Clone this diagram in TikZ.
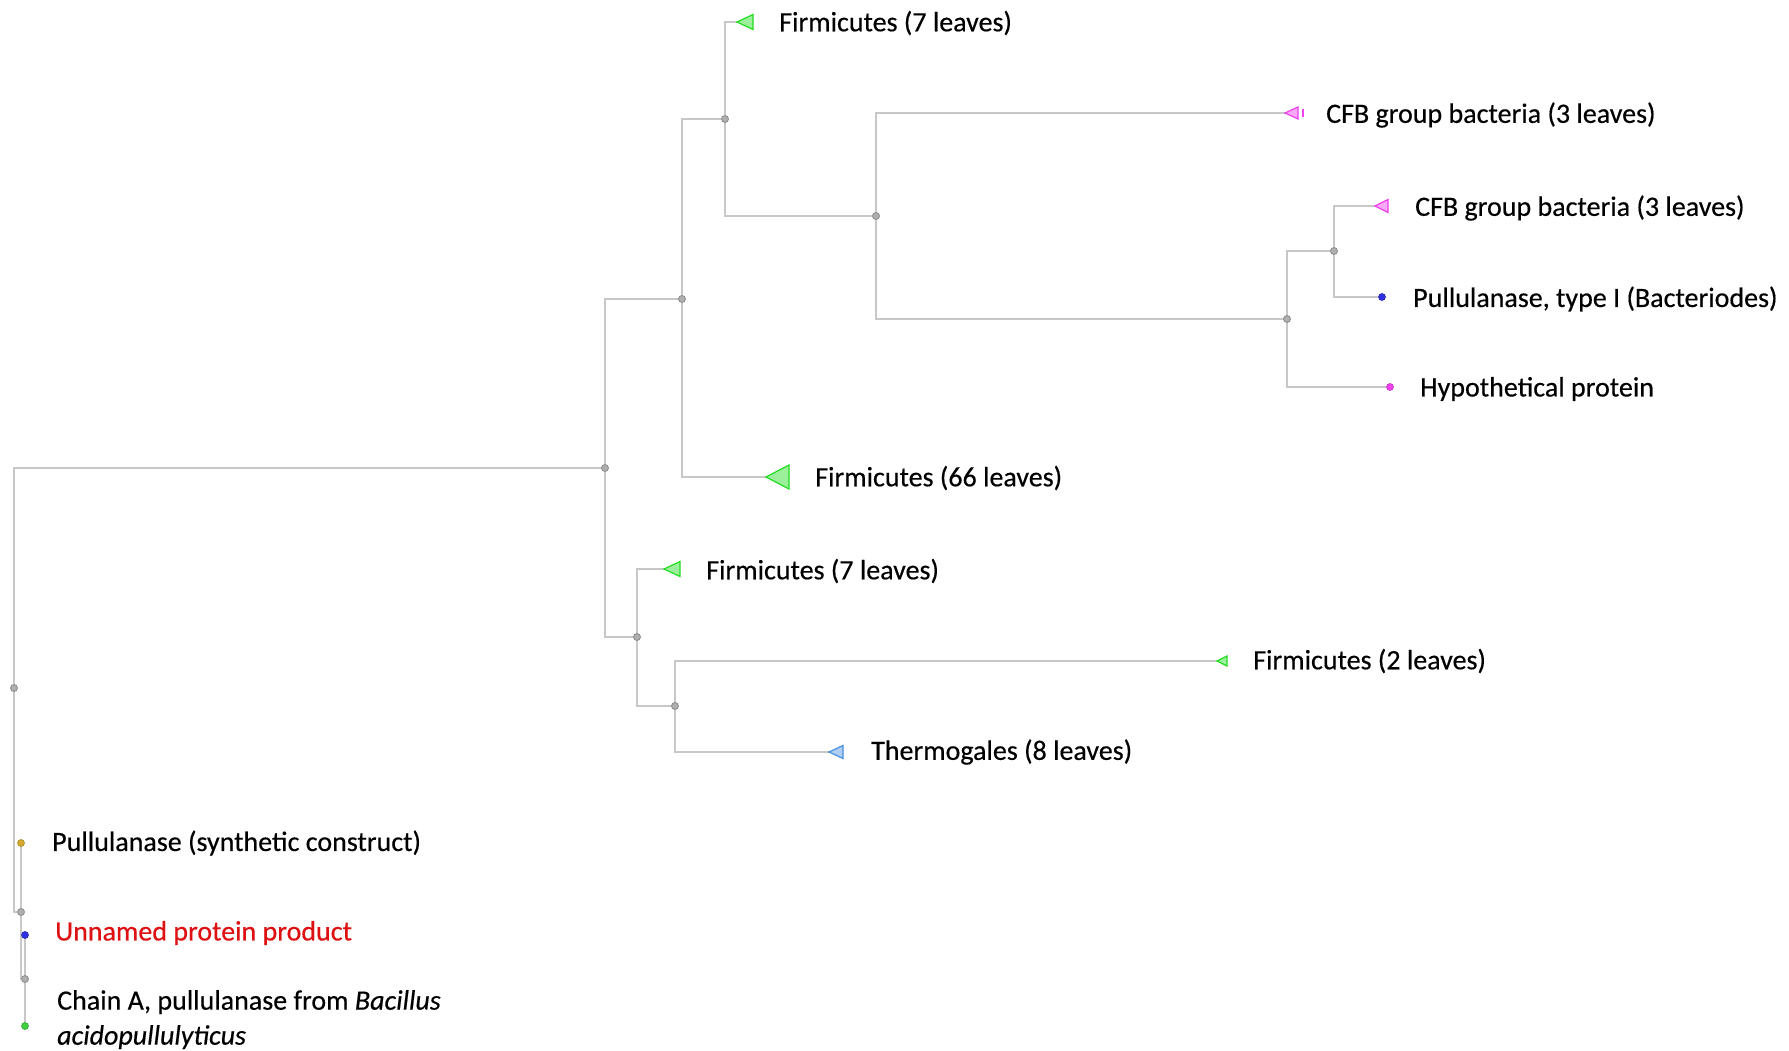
\documentclass[tikz,border=0pt]{standalone}
\usepackage{fontspec}
\setmainfont{Carlito}
\usetikzlibrary{backgrounds,calc}
\definecolor{edgegray}{HTML}{C8C8C8}
\definecolor{nodegray}{HTML}{8C8C8C}
\definecolor{firmgreen}{HTML}{22DD22}
\definecolor{cfbpink}{HTML}{F040F0}
\definecolor{thermblue}{HTML}{4A90E0}
\definecolor{leafblue}{HTML}{3030E0}
\definecolor{synyellow}{HTML}{D4AA30}
\definecolor{chaingreen}{HTML}{40D040}
\definecolor{unnamedred}{HTML}{DD1111}
\tikzset{
  inode/.style={circle, fill=nodegray!70, draw=nodegray, line width=0.8pt, minimum size=7pt, inner sep=0pt},
  leafdot/.style={circle, fill=#1, draw=#1!80!black, line width=0.6pt, minimum size=7pt, inner sep=0pt},
  branch/.style={draw=edgegray, line width=2pt},
  lbl/.style={anchor=west, inner sep=0pt, font=\fontsize{28}{35}\selectfont\addfontfeature{FakeBold=0.4}},
  tri/.style={fill=#1!45, draw=#1, line width=1.2pt, line join=miter}
}
\begin{document}
\begin{tikzpicture}[x=1pt,y=-1pt]
\useasboundingbox (0,0) rectangle (1789,1051);
% internal nodes
\node[inode] (R) at (14,688) {};
\node[inode] (A) at (605,468) {};
\node[inode] (B) at (682,299) {};
\node[inode] (C) at (725,119) {};
\node[inode] (D) at (876,216) {};
\node[inode] (E) at (1287,319) {};
\node[inode] (F) at (1334,251) {};
\node[inode] (G) at (637,637) {};
\node[inode] (H) at (675,706) {};
\node[inode] (I) at (21,912) {};
\node[inode] (J) at (25,979) {};
% collapsed clades (triangle tips)
\coordinate (f7a) at (737,22);
\coordinate (cfb1) at (1285,113);
\coordinate (cfb2) at (1375,206);
\coordinate (f66) at (766,477);
\coordinate (f7b) at (664,569);
\coordinate (f2) at (1217,661);
\coordinate (th) at (829,752);
\filldraw[tri=firmgreen] (f7a) -- ++(16,-7.5) -- ++(0,15) -- cycle;
\filldraw[tri=cfbpink] (cfb1) -- ++(13,-6) -- ++(0,12) -- cycle;
\draw[cfbpink, line width=1.2pt] ($(cfb1)+(18,-4)$) -- ++(0,8);
\filldraw[tri=cfbpink] (cfb2) -- ++(13,-6.5) -- ++(0,13) -- cycle;
\filldraw[tri=firmgreen] (f66) -- ++(23,-12) -- ++(0,24) -- cycle;
\filldraw[tri=firmgreen] (f7b) -- ++(16,-7.5) -- ++(0,15) -- cycle;
\filldraw[tri=firmgreen] (f2) -- ++(10,-5) -- ++(0,10) -- cycle;
\filldraw[tri=thermblue] (th) -- ++(14,-6.5) -- ++(0,13) -- cycle;
% leaf dots
\node[leafdot=leafblue] (pul1) at (1382,297) {};
\node[leafdot=cfbpink] (hyp) at (1390,387) {};
\node[leafdot=synyellow] (syn) at (21,843) {};
\node[leafdot=leafblue] (unn) at (25,935) {};
\node[leafdot=chaingreen] (cha) at (25,1026) {};
% branches
\begin{scope}[on background layer]
\fill[white] (0,0) rectangle (1789,1051);
\draw[branch] (R.center) |- (A.center);
\draw[branch] (R.center) |- (I.center);
\draw[branch] (A.center) |- (B.center);
\draw[branch] (A.center) |- (G.center);
\draw[branch] (B.center) |- (C.center);
\draw[branch] (B.center) |- (f66);
\draw[branch] (C.center) |- (f7a);
\draw[branch] (C.center) |- (D.center);
\draw[branch] (D.center) |- (cfb1);
\draw[branch] (D.center) |- (E.center);
\draw[branch] (E.center) |- (F.center);
\draw[branch] (E.center) |- (hyp.center);
\draw[branch] (F.center) |- (cfb2);
\draw[branch] (F.center) |- (pul1.center);
\draw[branch] (G.center) |- (f7b);
\draw[branch] (G.center) |- (H.center);
\draw[branch] (H.center) |- (f2);
\draw[branch] (H.center) |- (th);
\draw[branch] (I.center) |- (syn.center);
\draw[branch] (I.center) |- (J.center);
\draw[branch] (J.center) |- (unn.center);
\draw[branch] (J.center) |- (cha.center);
\end{scope}
% labels
\node[lbl] (lf7a) at (779,23) {Firmicutes (7 leaves)};
\node[lbl] (lcfb1) at (1326,115) {CFB group bacteria (3 leaves)};
\node[lbl] (lcfb2) at (1415,208) {CFB group bacteria (3 leaves)};
\node[lbl] (lpul1) at (1413,299) {Pullulanase, type I (Bacteriodes)};
\node[lbl] (lhyp) at (1420,389) {Hypothetical protein};
\node[lbl] (lf66) at (815,478) {Firmicutes (66 leaves)};
\node[lbl] (lf7b) at (706,571) {Firmicutes (7 leaves)};
\node[lbl] (lf2) at (1253,661) {Firmicutes (2 leaves)};
\node[lbl] (lth) at (871,752) {Thermogales (8 leaves)};
\node[lbl] (lsyn) at (52,843) {Pullulanase (synthetic construct)};
\node[lbl, text=unnamedred] (lunn) at (55,933) {Unnamed protein product};
\node[lbl, anchor=north west, align=left] (lcha) at (57,990) {Chain A, pullulanase from \textit{Bacillus}\\\textit{acidopullulyticus}};
\end{tikzpicture}
\end{document}
